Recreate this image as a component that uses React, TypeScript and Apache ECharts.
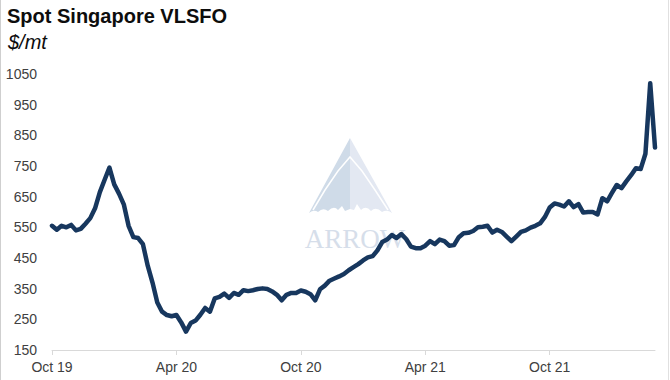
import React, { useEffect, useRef } from "react";
import * as echarts from "echarts";

// Weekly spot price, $/mt, starting 1 Oct 2019
const startDate = "2019-10-01";
const prices: number[] = [
  555, 542, 555, 550, 558, 540, 545, 562, 580, 612,
  665, 705, 745, 690, 660, 625, 555, 518, 515, 495,
  425, 370, 305, 275, 264, 260, 264, 240, 210, 238,
  246, 265, 287, 275, 318, 323, 334, 320, 336, 330,
  345, 342, 345, 349, 351, 349, 341, 330, 312, 330,
  336, 336, 344, 340, 332, 312, 348, 360, 376, 383,
  390, 398, 410, 420, 430, 442, 452, 456, 475, 502,
  510, 525, 515, 528, 512, 487, 482, 482, 490, 505,
  495, 510, 505, 490, 492, 518, 531, 532, 538, 550,
  552, 555, 533, 542, 535, 520, 505, 520, 535, 540,
  549, 555, 563, 584, 615, 628, 624, 618, 635, 616,
  626, 598, 600, 600, 592, 645, 635, 662, 688, 678,
  700, 720, 743, 740, 790, 1020, 810,
];
const tickLabels = ["Oct 19", "Apr 20", "Oct 20", "Apr 21", "Oct 21"];
const tickEveryWeeks = 26;

const categories: string[] = prices.map((_, i) => {
  const d = new Date(startDate + "T00:00:00Z");
  d.setUTCDate(d.getUTCDate() + i * 7);
  return d.toISOString().slice(0, 10);
});

echarts.graphic.registerShape(
  "arrowLeft",
  echarts.graphic.extendPath(
    "M350 138 L309 213 Q314 209 318 212 Q323 207 328 211 Q334 205 338 210 L342 206 L345 211 L350 209 Z",
    {}
  )
);
echarts.graphic.registerShape(
  "arrowRight",
  echarts.graphic.extendPath(
    "M350 138 L392 213 Q387 209 382 212 Q376 206 371 211 Q366 205 361 210 L357 204 L354 210 L350 209 Z",
    {}
  )
);

export default function App() {
  const ref = useRef<HTMLDivElement>(null);
  useEffect(() => {
    document.body.style.margin = "0";
    const chart = echarts.init(ref.current!, null, { renderer: "svg" });
    const font = "'Liberation Sans', Arial, sans-serif";
    chart.setOption({
      animation: false,
      backgroundColor: "#ffffff",
      title: [
        {
          text: "Spot Singapore VLSFO",
          left: 2,
          top: 1,
          textStyle: { fontFamily: font, fontWeight: "bold", fontSize: 20, color: "#0d0d0d" },
        },
        {
          text: "$/mt",
          left: 3,
          top: 27,
          textStyle: { fontFamily: font, fontStyle: "italic", fontWeight: "normal", fontSize: 20, color: "#0d0d0d" },
        },
      ],
      graphic: [
        { type: "line", z: 0, shape: { x1: 0.5, y1: 0, x2: 0.5, y2: 380 }, style: { stroke: "#cfcfcf", lineWidth: 1 } },
        { type: "line", z: 0, shape: { x1: 668.5, y1: 0, x2: 668.5, y2: 380 }, style: { stroke: "#e0e0e0", lineWidth: 1 } },
        { type: "arrowLeft", z: 0, x: 0, y: 0, style: { fill: "#cfdbe8" } },
        { type: "arrowRight", z: 0, x: 0, y: 0, style: { fill: "#e3e8f2" } },
        {
          type: "polyline",
          z: 0,
          shape: { points: [[313, 210], [325, 190], [338, 171], [350, 157], [362, 171], [375, 190], [388, 210]] },
          style: { stroke: "#ffffff", lineWidth: 1.5, fill: "none" },
        },
        {
          type: "text",
          z: 0,
          x: 355,
          y: 252,
          style: {
            text: "ARROW",
            fontFamily: "'Liberation Serif', 'Times New Roman', serif",
            fontSize: 27,
            fill: "#d6deea",
            align: "center",
            verticalAlign: "bottom",
          },
        },
      ],
      grid: { left: 52, right: 15, top: 74, bottom: 30, containLabel: false, outerBoundsMode: "none" },
      xAxis: {
        type: "category",
        data: categories,
        boundaryGap: false,
        axisLine: { lineStyle: { color: "#d9d9d9", width: 1 } },
        axisTick: {
          show: true,
          length: 5,
          interval: (i: number) => i % tickEveryWeeks === 0,
          lineStyle: { color: "#d9d9d9" },
        },
        axisLabel: {
          interval: (i: number) => i % tickEveryWeeks === 0,
          formatter: (_v: string, i: number) => tickLabels[Math.round(i / tickEveryWeeks)] ?? "",
          fontFamily: font,
          fontSize: 14,
          color: "#404040",
          margin: 10,
        },
        splitLine: { show: false },
      },
      yAxis: {
        type: "value",
        min: 150,
        max: 1050,
        interval: 100,
        axisLine: { show: false },
        axisTick: { show: false },
        splitLine: { show: false },
        axisLabel: {
          fontFamily: font,
          fontSize: 14,
          color: "#404040",
          margin: 15,
          formatter: (v: number) => String(v),
        },
      },
      series: [
        {
          type: "line",
          z: 3,
          data: prices,
          showSymbol: false,
          symbol: "none",
          lineStyle: { color: "#17375e", width: 4.5, join: "round", cap: "round" },
        },
      ],
    });
    return () => chart.dispose();
  }, []);
  return <div ref={ref} style={{ width: 670, height: 380 }} />;
}
